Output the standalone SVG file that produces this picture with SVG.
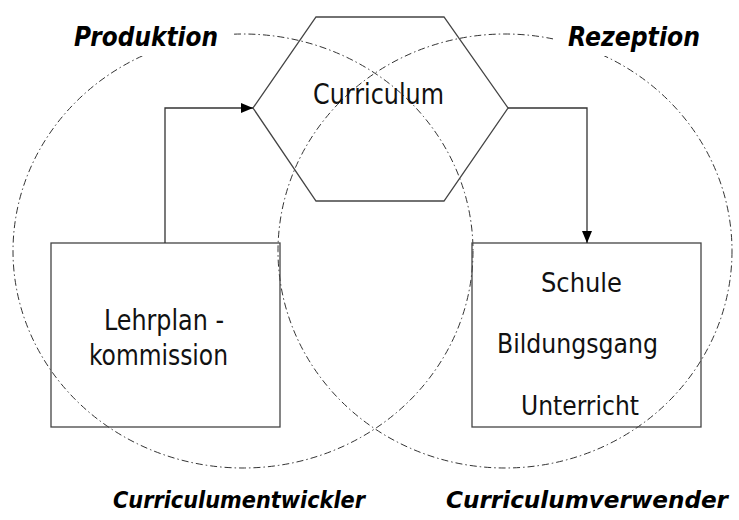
<svg xmlns="http://www.w3.org/2000/svg" width="739" height="520" viewBox="0 0 739 520">
<style>
.bg{fill:#fff}
.area{fill:none;stroke:#333;stroke-width:1;stroke-dasharray:7 3 1.5 3}
.node{fill:none;stroke:#444;stroke-width:1.3}
.hex{fill:none;stroke:#444;stroke-width:1.3}
.conn{fill:none;stroke:#333;stroke-width:1.3}
.t{font-family:"DejaVu Sans Condensed","DejaVu Sans",sans-serif;font-size:28px;fill:#111}
.t2{font-family:"DejaVu Sans Condensed","DejaVu Sans",sans-serif;font-size:26px;fill:#111}
.lbl{font-family:"DejaVu Sans","Liberation Sans",sans-serif;font-size:26px;font-weight:bold;font-style:italic;fill:#000}
.lblb{font-family:"DejaVu Sans","Liberation Sans",sans-serif;font-size:23.5px;font-weight:bold;font-style:italic;fill:#000}
.lblbg{fill:#fff}
</style>
<defs>
<marker id="ah" viewBox="0 0 12 10" refX="12" refY="5" markerWidth="12" markerHeight="10" markerUnits="userSpaceOnUse" orient="auto">
<path d="M0,0 L12,5 L0,10 Z" fill="#000"/>
</marker>
</defs>
<rect class="bg" width="739" height="520"/>
<g id="areas">
<ellipse class="area" cx="243" cy="251" rx="230" ry="217"/>
<ellipse class="area" cx="505" cy="251" rx="227" ry="217"/>
</g>
<g id="left-box"><rect class="node" x="51" y="243" width="229" height="184"/>
<text class="t" x="104" y="330" textLength="120" lengthAdjust="spacingAndGlyphs">Lehrplan -</text>
<text class="t" x="89" y="365" textLength="139" lengthAdjust="spacingAndGlyphs">kommission</text>
</g>
<g id="right-box"><rect class="node" x="472" y="243" width="229" height="184"/>
<text class="t2" x="541" y="292" textLength="81" lengthAdjust="spacingAndGlyphs">Schule</text>
<text class="t2" x="497" y="353" textLength="161" lengthAdjust="spacingAndGlyphs">Bildungsgang</text>
<text class="t2" x="521" y="415" textLength="118" lengthAdjust="spacingAndGlyphs">Unterricht</text>
</g>
<g id="hexagon"><polygon class="hex" points="316,17 444,17 508,108 444,201 316,201 253,108"/>
<text class="t" x="313" y="104" textLength="131" lengthAdjust="spacingAndGlyphs">Curriculum</text>
</g>
<g id="connectors">
<polyline class="conn" points="165,243 165,108 253,108" marker-end="url(#ah)"/>
<polyline class="conn" points="508,108 587,108 587,243" marker-end="url(#ah)"/>
</g>
<g id="label-produktion"><rect class="lblbg" x="62" y="20" width="170" height="36"/>
<text class="lbl" x="74" y="46" textLength="144" lengthAdjust="spacingAndGlyphs">Produktion</text></g>
<g id="label-rezeption"><rect class="lblbg" x="553" y="20" width="160" height="36"/>
<text class="lbl" x="568" y="46" textLength="132" lengthAdjust="spacingAndGlyphs">Rezeption</text></g>
<g id="label-entwickler">
<text class="lblb" x="113" y="508" textLength="252" lengthAdjust="spacingAndGlyphs">Curriculumentwickler</text></g>
<g id="label-verwender">
<text class="lblb" x="446" y="508" textLength="282" lengthAdjust="spacingAndGlyphs">Curriculumverwender</text></g>
</svg>
